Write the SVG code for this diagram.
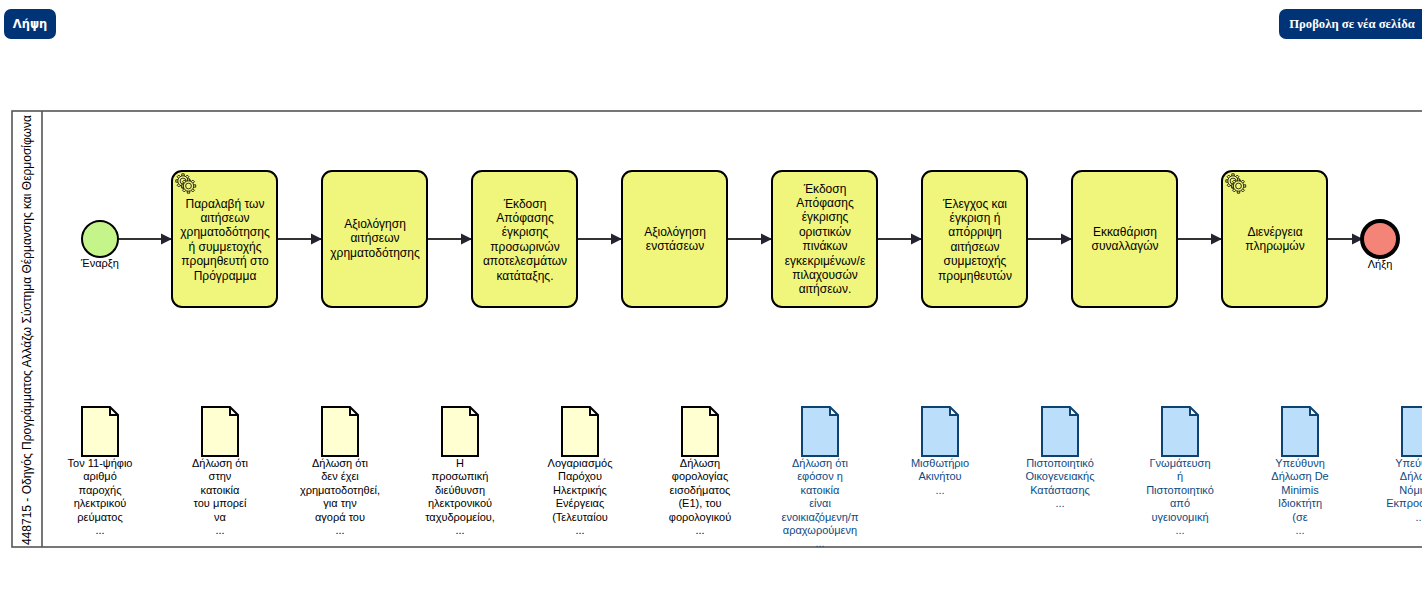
<svg xmlns="http://www.w3.org/2000/svg" xmlns:xlink="http://www.w3.org/1999/xlink" width="1422" height="603" viewBox="0 0 1422 603">
<style>
text{font-family:"Liberation Sans",Arial,sans-serif;fill:#000}
.btn{fill:#003476}
.bt{fill:#fff;font-weight:bold;font-size:11.5px;text-anchor:middle}
.task{fill:#f0f67c;stroke:#000;stroke-width:2}
.tt{font-size:12px;text-anchor:middle}
.dt{font-size:11px;text-anchor:middle}
.blue .dt{fill:#0e4a7f}
.doc{fill:#ffffd2;stroke:#000;stroke-width:2}
.docb{fill:#bbdefb;stroke:#0d4372;stroke-width:2}
.flow{fill:none;stroke:#333;stroke-width:2;marker-end:url(#arr)}
.g{fill:#f0f67c;stroke:#000;stroke-width:.8}
.lab{font-size:11px;text-anchor:middle}
</style>
<defs>
<marker id="arr" markerUnits="userSpaceOnUse" markerWidth="12" markerHeight="12" refX="11" refY="6" orient="auto"><path d="M0 0.5L11 6L0 11.5Z" fill="#22242f"/></marker>
<g id="gear"><path id="tooth" class="g" d="M-1.2-5V-7.2H1.2V-5"/><use xlink:href="#tooth" transform="rotate(45)"/><use xlink:href="#tooth" transform="rotate(90)"/><use xlink:href="#tooth" transform="rotate(135)"/><use xlink:href="#tooth" transform="rotate(180)"/><use xlink:href="#tooth" transform="rotate(225)"/><use xlink:href="#tooth" transform="rotate(270)"/><use xlink:href="#tooth" transform="rotate(315)"/><circle class="g" r="5.2"/><circle class="g" r="2.9"/></g>
<g id="gears"><use xlink:href="#gear" x="11" y="10"/><use xlink:href="#gear" x="16.5" y="15"/></g>
<path id="docshape" class="doc" d="M0 0H28L36 8V49H0Z M28 0V8H36"/>
<path id="docblue" class="docb" d="M0 0H28L36 8V49H0Z M28 0V8H36"/>
</defs>
<g id="btn-download"><rect class="btn" x="4" y="9" width="52" height="30" rx="7"/><text class="bt" x="30" y="28" style="font-family:'DejaVu Sans',sans-serif">Λήψη</text></g>
<g id="btn-open"><rect class="btn" x="1279" y="9" width="150" height="30" rx="7"/><text class="bt" x="1352" y="28" style="font-family:'Liberation Serif',serif;font-size:12.7px">Προβολη σε νέα σελίδα</text></g>
<g id="pool"><rect x="12" y="111" width="1420" height="436" fill="#fff" stroke="#555" stroke-width="1.6"/><line x1="42" y1="111" x2="42" y2="547" stroke="#555" stroke-width="1.6"/><text transform="translate(31 330) rotate(-90)" font-size="12" text-anchor="middle" fill="#111">448715 - Οδηγός Προγράμματος Αλλάζω Σύστημα Θέρμανσης και Θερμοσίφωνα</text></g>
<g id="connectors">
<path class="flow" d="M119 239H172"/><path class="flow" d="M278 239H322"/><path class="flow" d="M428 239H472"/><path class="flow" d="M578 239H622"/><path class="flow" d="M728 239H772"/><path class="flow" d="M878 239H922"/><path class="flow" d="M1028 239H1072"/><path class="flow" d="M1178 239H1222"/><path class="flow" d="M1328 239H1363"/>
</g>
<g id="start"><circle cx="100" cy="239" r="18" fill="#c5f58a" stroke="#000" stroke-width="2"/><text class="lab" x="100" y="267">Έναρξη</text></g>
<g id="task1"><rect class="task" x="172" y="171" width="105" height="136" rx="10"/><use xlink:href="#gears" x="172" y="171"/><text class="tt" y="207.5"><tspan x="225">Παραλαβή των</tspan><tspan x="225" dy="14.4">αιτήσεων</tspan><tspan x="225" dy="14.4">χρηματοδότησης</tspan><tspan x="225" dy="14.4">ή συμμετοχής</tspan><tspan x="225" dy="14.4">προμηθευτή στο</tspan><tspan x="225" dy="14.4">Πρόγραμμα</tspan></text></g>
<g id="task2"><rect class="task" x="322" y="171" width="105" height="136" rx="10"/><text class="tt" y="228"><tspan x="375">Αξιολόγηση</tspan><tspan x="375" dy="14.4">αιτήσεων</tspan><tspan x="375" dy="14.4">χρηματοδότησης</tspan></text></g>
<g id="task3"><rect class="task" x="472" y="171" width="105" height="136" rx="10"/><text class="tt" y="207.5"><tspan x="525">Έκδοση</tspan><tspan x="525" dy="14.4">Απόφασης</tspan><tspan x="525" dy="14.4">έγκρισης</tspan><tspan x="525" dy="14.4">προσωρινών</tspan><tspan x="525" dy="14.4">αποτελεσμάτων</tspan><tspan x="525" dy="14.4">κατάταξης.</tspan></text></g>
<g id="task4"><rect class="task" x="622" y="171" width="105" height="136" rx="10"/><text class="tt" y="235.5"><tspan x="675">Αξιολόγηση</tspan><tspan x="675" dy="14.4">ενστάσεων</tspan></text></g>
<g id="task5"><rect class="task" x="772" y="171" width="105" height="136" rx="10"/><text class="tt" y="192.5"><tspan x="825">Έκδοση</tspan><tspan x="825" dy="14.4">Απόφασης</tspan><tspan x="825" dy="14.4">έγκρισης</tspan><tspan x="825" dy="14.4">οριστικών</tspan><tspan x="825" dy="14.4">πινάκων</tspan><tspan x="825" dy="14.4">εγκεκριμένων/ε</tspan><tspan x="825" dy="14.4">πιλαχουσών</tspan><tspan x="825" dy="14.4">αιτήσεων.</tspan></text></g>
<g id="task6"><rect class="task" x="922" y="171" width="105" height="136" rx="10"/><text class="tt" y="207.5"><tspan x="975">Έλεγχος και</tspan><tspan x="975" dy="14.4">έγκριση ή</tspan><tspan x="975" dy="14.4">απόρριψη</tspan><tspan x="975" dy="14.4">αιτήσεων</tspan><tspan x="975" dy="14.4">συμμετοχής</tspan><tspan x="975" dy="14.4">προμηθευτών</tspan></text></g>
<g id="task7"><rect class="task" x="1072" y="171" width="105" height="136" rx="10"/><text class="tt" y="235.5"><tspan x="1125">Εκκαθάριση</tspan><tspan x="1125" dy="14.4">συναλλαγών</tspan></text></g>
<g id="task8"><rect class="task" x="1222" y="171" width="105" height="136" rx="10"/><use xlink:href="#gears" x="1222" y="171"/><text class="tt" y="235.5"><tspan x="1275">Διενέργεια</tspan><tspan x="1275" dy="14.4">πληρωμών</tspan></text></g>
<g id="end"><circle cx="1380" cy="239" r="18" fill="#f48478" stroke="#000" stroke-width="4"/><text class="lab" x="1380" y="267.5">Λήξη</text></g>
<g id="doc1"><use xlink:href="#docshape" x="82" y="407"/><text class="dt" y="467"><tspan x="100">Τον 11-ψήφιο</tspan><tspan x="100" dy="13.4">αριθμό</tspan><tspan x="100" dy="13.4">παροχής</tspan><tspan x="100" dy="13.4">ηλεκτρικού</tspan><tspan x="100" dy="13.4">ρεύματος</tspan><tspan x="100" dy="13.4">...</tspan></text></g>
<g id="doc2"><use xlink:href="#docshape" x="202" y="407"/><text class="dt" y="467"><tspan x="220">Δήλωση ότι</tspan><tspan x="220" dy="13.4">στην</tspan><tspan x="220" dy="13.4">κατοικία</tspan><tspan x="220" dy="13.4">του μπορεί</tspan><tspan x="220" dy="13.4">να</tspan><tspan x="220" dy="13.4">...</tspan></text></g>
<g id="doc3"><use xlink:href="#docshape" x="322" y="407"/><text class="dt" y="467"><tspan x="340">Δήλωση ότι</tspan><tspan x="340" dy="13.4">δεν έχει</tspan><tspan x="340" dy="13.4">χρηματοδοτηθεί,</tspan><tspan x="340" dy="13.4">για την</tspan><tspan x="340" dy="13.4">αγορά του</tspan><tspan x="340" dy="13.4">...</tspan></text></g>
<g id="doc4"><use xlink:href="#docshape" x="442" y="407"/><text class="dt" y="467"><tspan x="460">Η</tspan><tspan x="460" dy="13.4">προσωπική</tspan><tspan x="460" dy="13.4">διεύθυνση</tspan><tspan x="460" dy="13.4">ηλεκτρονικού</tspan><tspan x="460" dy="13.4">ταχυδρομείου,</tspan><tspan x="460" dy="13.4">...</tspan></text></g>
<g id="doc5"><use xlink:href="#docshape" x="562" y="407"/><text class="dt" y="467"><tspan x="580">Λογαριασμός</tspan><tspan x="580" dy="13.4">Παρόχου</tspan><tspan x="580" dy="13.4">Ηλεκτρικής</tspan><tspan x="580" dy="13.4">Ενέργειας</tspan><tspan x="580" dy="13.4">(Τελευταίου</tspan><tspan x="580" dy="13.4">...</tspan></text></g>
<g id="doc6"><use xlink:href="#docshape" x="682" y="407"/><text class="dt" y="467"><tspan x="700">Δήλωση</tspan><tspan x="700" dy="13.4">φορολογίας</tspan><tspan x="700" dy="13.4">εισοδήματος</tspan><tspan x="700" dy="13.4">(Ε1), του</tspan><tspan x="700" dy="13.4">φορολογικού</tspan><tspan x="700" dy="13.4">...</tspan></text></g>
<g id="doc7" class="blue"><use xlink:href="#docblue" x="802" y="407"/><text class="dt" y="467"><tspan x="820">Δήλωση ότι</tspan><tspan x="820" dy="13.4">εφόσον η</tspan><tspan x="820" dy="13.4">κατοικία</tspan><tspan x="820" dy="13.4">είναι</tspan><tspan x="820" dy="13.4">ενοικιαζόμενη/π</tspan><tspan x="820" dy="13.4">αραχωρούμενη</tspan><tspan x="820" dy="13.4">...</tspan></text></g>
<g id="doc8" class="blue"><use xlink:href="#docblue" x="922" y="407"/><text class="dt" y="467"><tspan x="940">Μισθωτήριο</tspan><tspan x="940" dy="13.4">Ακινήτου</tspan><tspan x="940" dy="13.4">...</tspan></text></g>
<g id="doc9" class="blue"><use xlink:href="#docblue" x="1042" y="407"/><text class="dt" y="467"><tspan x="1060">Πιστοποιητικό</tspan><tspan x="1060" dy="13.4">Οικογενειακής</tspan><tspan x="1060" dy="13.4">Κατάστασης</tspan><tspan x="1060" dy="13.4">...</tspan></text></g>
<g id="doc10" class="blue"><use xlink:href="#docblue" x="1162" y="407"/><text class="dt" y="467"><tspan x="1180">Γνωμάτευση</tspan><tspan x="1180" dy="13.4">ή</tspan><tspan x="1180" dy="13.4">Πιστοποιητικό</tspan><tspan x="1180" dy="13.4">από</tspan><tspan x="1180" dy="13.4">υγειονομική</tspan><tspan x="1180" dy="13.4">...</tspan></text></g>
<g id="doc11" class="blue"><use xlink:href="#docblue" x="1282" y="407"/><text class="dt" y="467"><tspan x="1300">Υπεύθυνη</tspan><tspan x="1300" dy="13.4">Δήλωση De</tspan><tspan x="1300" dy="13.4">Minimis</tspan><tspan x="1300" dy="13.4">Ιδιοκτήτη</tspan><tspan x="1300" dy="13.4">(σε</tspan><tspan x="1300" dy="13.4">...</tspan></text></g>
<g id="doc12" class="blue"><use xlink:href="#docblue" x="1402" y="407"/><text class="dt" y="467"><tspan x="1420">Υπεύθυνη</tspan><tspan x="1420" dy="13.4">Δήλωση</tspan><tspan x="1420" dy="13.4">Νόμιμου</tspan><tspan x="1420" dy="13.4">Εκπροσώπου</tspan><tspan x="1420" dy="13.4">...</tspan></text></g>
</svg>
